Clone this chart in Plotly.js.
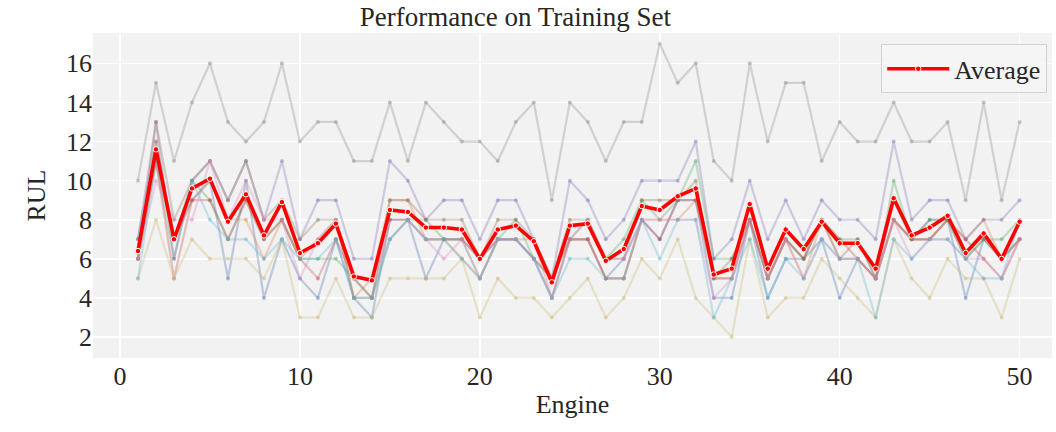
<!DOCTYPE html>
<html>
<head>
<meta charset="utf-8">
<script src="https://cdn.plot.ly/plotly-3.0.1.min.js"></script>
<style>html,body{margin:0;padding:0;background:#fff;}#chart{width:1056px;height:432px;}</style>
</head>
<body>
<div id="chart"></div>
<script>
const engines = Array.from({length: 50}, (_, i) => i + 1);

const average = [6.4, 11.6, 7.0, 9.6, 10.1, 7.9, 9.3, 7.2, 8.9, 6.3,
                 6.8, 7.8, 5.1, 4.9, 8.5, 8.4, 7.6, 7.6, 7.5, 6.0,
                 7.5, 7.7, 6.9, 4.8, 7.7, 7.8, 5.9, 6.5, 8.7, 8.5,
                 9.2, 9.6, 5.2, 5.5, 8.8, 5.5, 7.5, 6.5, 7.9, 6.8,
                 6.8, 5.5, 9.1, 7.2, 7.6, 8.2, 6.3, 7.3, 6.0, 7.9];

const runGray   = [10,15,11,14,16,13,12,13,16,12, 13,13,11,11,14,11,14,13,12,12, 11,13,14,9,14,13,11,13,13,17, 15,16,11,10,16,12,15,15,11,13, 12,12,14,12,12,13,9,14,9,13];
const runOlive  = [5,8,5,7,6,6,6,5,7,3, 3,5,3,3,5,5,5,5,6,3, 5,4,4,3,4,5,3,4,6,5, 7,4,3,2,7,3,4,4,6,5, 4,3,7,5,4,6,5,5,3,6];
const runPurple = [7,13,6,10,11,9,11,8,11,7, 9,9,6,6,11,10,8,9,9,7, 9,9,7,5,10,9,7,8,10,10, 10,12,6,7,10,7,9,7,9,8, 8,7,12,8,9,9,7,8,8,9];
const runBrown  = [6,13,8,10,11,9,11,8,9,7, 8,8,4,4,9,9,8,8,8,6, 8,8,7,5,8,8,6,6,9,9, 9,10,5,6,8,5,7,6,8,6, 7,5,8,7,7,8,6,7,6,7];
const runBlue   = [7,12,7,9,10,5,10,4,7,5, 4,7,4,3,8,8,5,7,7,6, 7,7,6,4,7,7,5,6,8,7, 9,9,4,4,8,4,6,6,7,4, 6,5,9,7,8,8,4,7,6,7];
const runGreen  = [6,11,6,10,9,7,9,7,8,6, 6,6,5,4,7,8,8,7,7,5, 7,8,6,5,7,8,6,7,9,8, 9,11,6,6,8,5,7,6,8,7, 7,5,10,7,8,8,6,7,7,8];
const runOrange = [6,12,7,9,10,8,8,6,8,6, 7,8,4,5,9,9,7,7,6,5, 7,7,7,4,7,7,5,5,8,8, 8,9,5,5,8,5,7,5,8,6, 6,5,8,7,7,8,7,8,6,7];
const runRed    = [6,11,5,9,9,7,9,7,8,6, 5,7,5,4,8,8,7,7,7,6, 7,7,6,5,7,7,5,5,8,7, 9,9,5,5,8,5,7,6,8,7, 6,5,8,7,7,8,7,6,5,7];
const runPink   = [6,10,8,8,11,8,10,8,8,5, 7,8,5,5,7,8,7,6,7,5, 7,7,6,4,7,8,6,6,8,8, 8,8,4,5,8,5,7,5,7,6, 6,5,8,6,7,7,6,6,5,7];
const runCyan   = [5,11,7,10,8,7,7,6,7,6, 6,7,4,4,7,8,7,7,6,5, 7,7,6,4,6,6,5,5,8,6, 8,8,3,5,7,4,6,5,7,6, 6,3,7,6,7,7,6,5,5,8];

const runs = [
  {y: runBlue,   c: [76,114,176]},
  {y: runOrange, c: [221,132,82]},
  {y: runGreen,  c: [85,168,104]},
  {y: runRed,    c: [196,78,82]},
  {y: runPurple, c: [129,114,179]},
  {y: runBrown,  c: [147,120,96]},
  {y: runPink,   c: [218,139,195]},
  {y: runGray,   c: [140,140,140]},
  {y: runOlive,  c: [204,185,116]},
  {y: runCyan,   c: [100,181,205]}
];

const FONT = 'Liberation Serif, Times New Roman, serif';
const traces = runs.map(r => ({
  x: engines, y: r.y, type: 'scatter', mode: 'lines+markers',
  line: {color: `rgba(${r.c[0]},${r.c[1]},${r.c[2]},0.33)`, width: 2.2},
  marker: {color: `rgba(${r.c[0]},${r.c[1]},${r.c[2]},0.45)`, size: 4},
  showlegend: false, hoverinfo: 'skip'
}));

traces.push({
  x: engines, y: average, type: 'scatter', mode: 'lines+markers', name: 'Average',
  line: {color: '#ff0000', width: 3.6},
  marker: {color: '#ff0000', size: 5.5, line: {color: '#ffffff', width: 1}},
  showlegend: true
});

const layout = {
  width: 1056, height: 432,
  margin: {l: 93, r: 4, t: 33, b: 74},
  paper_bgcolor: '#ffffff',
  plot_bgcolor: '#f2f2f2',
  font: {family: FONT, color: '#262626', size: 26},
  title: {text: 'Performance on Training Set', font: {family: FONT, size: 27, color: '#262626'},
          x: 0.488, xanchor: 'center', y: 0.962, yanchor: 'middle', yref: 'container'},
  xaxis: {
    range: [-1.5, 51.8], tickvals: [0, 10, 20, 30, 40, 50],
    showgrid: true, gridcolor: '#ffffff', gridwidth: 1.5, zeroline: false, showline: false,
    ticks: '', tickfont: {family: FONT, size: 26, color: '#262626'},
    title: {text: 'Engine', font: {family: FONT, size: 26, color: '#262626'}, standoff: 4}
  },
  yaxis: {
    range: [0.93, 17.55], tickvals: [2, 4, 6, 8, 10, 12, 14, 16],
    showgrid: true, gridcolor: '#ffffff', gridwidth: 1.5, zeroline: false, showline: false,
    ticks: '', tickfont: {family: FONT, size: 26, color: '#262626'},
    title: {text: 'RUL', font: {family: FONT, size: 26, color: '#262626'}, standoff: 12}
  },
  legend: {
    x: 0.995, xanchor: 'right', y: 0.965, yanchor: 'top',
    bgcolor: 'rgba(245,245,245,0.9)', bordercolor: '#d0d0d0', borderwidth: 1,
    itemwidth: 62,
    font: {family: FONT, size: 26, color: '#262626'}
  }
};

Plotly.newPlot('chart', traces, layout, {displayModeBar: false, staticPlot: true});
</script>
</body>
</html>
